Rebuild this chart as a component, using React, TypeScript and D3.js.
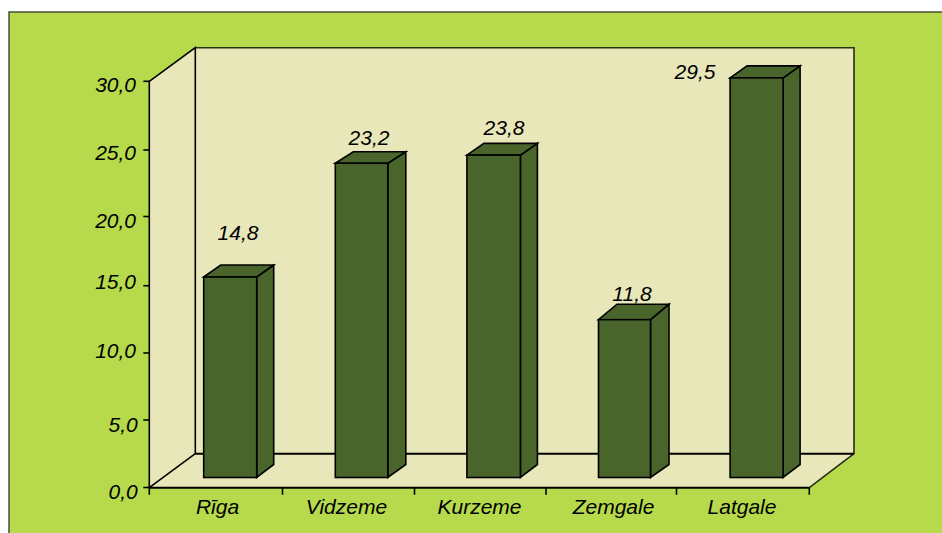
import React from "react";
import * as d3 from "d3";

const categories = ["Rīga", "Vidzeme", "Kurzeme", "Zemgale", "Latgale"];
const barValues = [14.8, 23.2, 23.8, 11.65, 29.5];
const valueLabels = ["14,8", "23,2", "23,8", "11,8", "29,5"];
const valueLabelX = [238, 369, 504, 632, 695];
const valueLabelBaseline = [240, 145, 135, 300.5, 79];
const barWidths = [53, 52.5, 53.5, 52, 53];
const barDepthX = [17, 18, 17, 18.5, 17];
const barDepthTop = [12, 11.5, 11.7, 15.5, 12];
const barDepthBottom = 13;
const categoryLabelX = [217.5, 346.5, 479.5, 613.5, 742];
const yTicks = [0, 5, 10, 15, 20, 25, 30];
const yTickPositions = [487.5, 420, 353, 285.7, 216.5, 150, 81.3];
const yTickBaselines = [499.3, 431.7, 358, 288.8, 228, 160, 92];
const yTickRight = [137.7, 137.7, 136, 136, 136, 136, 136];
const yTickLabels = ["0,0", "5,0", "10,0", "15,0", "20,0", "25,0", "30,0"];
const xTickPositions = [149.3, 282.5, 414.5, 546, 676.5, 809.3];

const W = 942, H = 533;
const X0 = 149.3, X1 = 809.3, Y0 = 487.7, Y30 = 81.3;
const BX0 = 195.3, BX1 = 854, BY0 = 453.7, BY1 = 47.7;
const FONT = "'Liberation Sans', Arial, sans-serif";

const GREEN = "#b6da4b";
const WALL = "#e8e7b9";
const BAR = "#49652b";
const INK = "#000";

export default function App() {
  const x = d3.scaleBand<string>().domain(categories).range([149.2, 807.2]);
  const y = d3.scaleLinear().domain([0, 30]).range([Y0, Y30]);
  const floorFront = 477.5;
  const poly = (p: number[][]) => p.map((q) => q.join(",")).join(" ");
  return (
    <svg width={W} height={H} style={{ position: "absolute", left: 0, top: 0, display: "block" }} fontFamily={FONT}>
      <rect width={W} height={H} fill="#fff" />
      <rect x={9} y={12} width={W} height={H} fill={GREEN} stroke="#4a4f35" strokeWidth={1.5} />
      <polygon points={poly([[X0, Y30], [BX0, BY1], [BX1, BY1], [BX1, BY0], [X1, Y0], [X0, Y0]])} fill={WALL} />
      <g fill="none" stroke={INK} strokeWidth={1.6}>
        <path d={`M${X0},${Y0}V${Y30}L${BX0},${BY1}V${BY0}L${X0},${Y0}`} />
        <path d={`M${BX0},${BY1}H${BX1}V${BY0}L${X1},${Y0}`} stroke="#2a2e18" />
        <path d={`M${BX0},${BY0}H${BX1}`} strokeWidth={2} />
        <path d={`M${X0},${Y0}H${X1}`} strokeWidth={2} />
        {yTickPositions.map((p, i) => <path key={i} d={`M${X0 - 6},${p}H${X0}`} />)}
        {xTickPositions.map((p, i) => <path key={i} d={`M${p},${Y0}V${Y0 + 7}`} />)}
      </g>
      {categories.map((c, i) => {
        const l = x(c)! + 54.5;
        const r = l + barWidths[i];
        const h = Y0 - y(barValues[i]);
        const t = floorFront - h;
        const dx = barDepthX[i];
        const dy = barDepthTop[i];
        return (
          <g key={c} fill={BAR} stroke={INK} strokeWidth={1.6} strokeLinejoin="miter">
            <polygon points={poly([[r, t], [r + dx, t - dy], [r + dx, floorFront - barDepthBottom], [r, floorFront]])} />
            <polygon points={poly([[l, t], [l + dx, t - dy], [r + dx, t - dy], [r, t]])} />
            <rect x={l} y={t} width={barWidths[i]} height={h} />
          </g>
        );
      })}
      <g fontStyle="italic" fontSize={21} fill={INK}>
        {yTicks.map((_, i) => (
          <text key={i} x={yTickRight[i]} y={yTickBaselines[i]} textAnchor="end">{yTickLabels[i]}</text>
        ))}
        {categories.map((c, i) => (
          <text key={c} x={categoryLabelX[i]} y={514} textAnchor="middle">{c}</text>
        ))}
        {valueLabels.map((v, i) => (
          <text key={v} x={valueLabelX[i]} y={valueLabelBaseline[i]} textAnchor="middle">{v}</text>
        ))}
      </g>
    </svg>
  );
}
